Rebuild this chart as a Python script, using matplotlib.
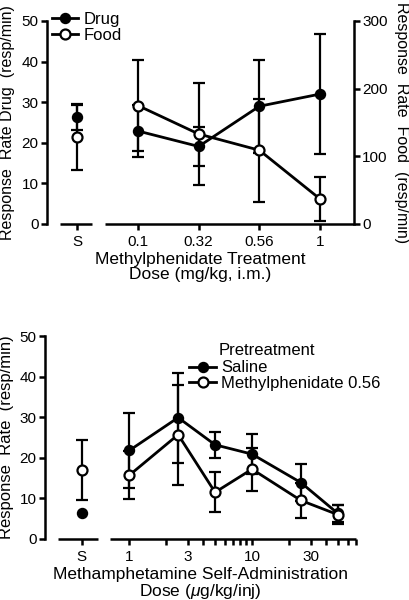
import matplotlib
matplotlib.use('Agg')
import matplotlib.pyplot as plt
from matplotlib.ticker import FixedLocator, NullFormatter

# ---- top panel data (methylphenidate treatment) ----
mph_doses = ['0.1', '0.32', '0.56', '1']
drug_s = 26.3
drug_s_err = 3.2
drug_rate = [22.9, 19.1, 29.0, 32.0]
drug_err = [6.3, 4.7, 11.4, 14.8]
food_s = 128
food_s_err = 48
food_rate = [175, 133, 109, 37]
food_err = [67, 76, 76, 32]

# ---- bottom panel data (methamphetamine self-administration) ----
meth_doses = [1, 2.5, 5, 10, 25, 50]
saline_s = 6.3
saline_rate = [21.8, 29.9, 23.2, 20.9, 13.9, 6.3]
saline_err = [9.2, 11.1, 3.2, 5.0, 4.5, 2.1]
mph_s = 16.9
mph_s_err = 7.4
mph_rate = [15.7, 25.7, 11.5, 17.2, 9.5, 6.0]
mph_err = [5.9, 12.3, 4.9, 5.3, 4.4, 2.3]
bottom_ticks = [1, 3, 10, 30]
bottom_minor = [2, 4, 5, 6, 7, 8, 9, 20, 40, 50, 60, 70]

plt.rcParams['font.family'] = ['Liberation Sans', 'DejaVu Sans']
plt.rcParams['mathtext.fontset'] = 'custom'
plt.rcParams['mathtext.it'] = 'Liberation Sans:italic'
plt.rcParams['mathtext.rm'] = 'Liberation Sans'

LW = 2.0
SPINE = 1.8
MS = 7.2
ERR = dict(fmt='none', ecolor='black', elinewidth=1.6, capsize=4.3,
           capthick=1.6, zorder=2)
FILLED = dict(color='black', lw=LW, marker='o', ms=MS, mfc='black',
              mec='black', zorder=3, clip_on=False)
OPEN = dict(color='black', lw=LW, marker='o', ms=MS, mfc='white',
            mec='black', mew=1.6, zorder=4, clip_on=False)


def style_axis(ax):
    for side in ['left', 'right', 'bottom', 'top']:
        ax.spines[side].set_linewidth(SPINE)
    ax.tick_params(width=SPINE, length=4, labelsize=11, pad=2)
    ax.tick_params(which='minor', width=SPINE, length=4)


def top_panel(fig):
    ax = fig.add_axes([0.1146, 0.6267, 0.7488, 0.3383])
    ax2 = ax.twinx()
    for a in (ax, ax2):
        style_axis(a)
        a.spines['top'].set_visible(False)
        a.spines['bottom'].set_visible(False)
    ax.spines['right'].set_visible(False)
    ax2.spines['left'].set_visible(False)

    pos = list(range(len(mph_doses)))
    s_pos = -1.0
    ax.set_xlim(-1.5, 3.56)
    ax.set_ylim(0, 50)
    ax2.set_ylim(0, 300)

    # broken x axis: S segment and dose segment
    ax.hlines(0, -1.286, -0.758, color='black', lw=SPINE, clip_on=False)
    ax.hlines(0, -0.544, 3.56, color='black', lw=SPINE, clip_on=False)

    ax.errorbar([s_pos] + pos, [drug_s] + drug_rate,
                yerr=[drug_s_err] + drug_err, **ERR)
    ax.plot([s_pos], [drug_s], **FILLED)
    ax.plot(pos, drug_rate, label='Drug', **FILLED)

    ax2.errorbar([s_pos] + pos, [food_s] + food_rate,
                 yerr=[food_s_err] + food_err, **ERR)
    ax2.plot([s_pos], [food_s], **OPEN)
    ax2.plot(pos, food_rate, label='Food', **OPEN)

    ax.set_xticks([s_pos] + pos)
    ax.set_xticklabels(['S'] + mph_doses)
    ax.set_yticks(range(0, 51, 10))
    ax2.set_yticks(range(0, 301, 100))
    ax.tick_params(axis='x', length=4, pad=4)

    ax.set_ylabel('Response  Rate Drug  (resp/min)', fontsize=11.5,
                  labelpad=5)
    ax2.set_ylabel('Response  Rate  Food  (resp/min)', fontsize=11.5,
                   rotation=270, labelpad=15)
    ax.set_xlabel('Methylphenidate Treatment\nDose (mg/kg, i.m.)',
                  fontsize=12.5, linespacing=1.0, labelpad=2)

    h1, l1 = ax.get_legend_handles_labels()
    h2, l2 = ax2.get_legend_handles_labels()
    ax2.legend(h1 + h2, l1 + l2, loc='upper left',
               bbox_to_anchor=(0.015, 1.045), frameon=False, fontsize=12,
               handlelength=1.6, handletextpad=0.3, labelspacing=0.05,
               borderpad=0, borderaxespad=0)


def bottom_panel(fig):
    ax = fig.add_axes([0.1098, 0.1017, 0.7578, 0.3383])
    style_axis(ax)
    ax.spines['top'].set_visible(False)
    ax.spines['right'].set_visible(False)
    ax.spines['bottom'].set_visible(False)

    s_pos = 0.41
    ax.set_xscale('log')
    ax.set_xlim(0.2056, 70)
    ax.set_ylim(0, 50)

    ax.hlines(0, 0.262, 0.556, color='black', lw=SPINE, clip_on=False)
    ax.hlines(0, 0.70, 70, color='black', lw=SPINE, clip_on=False)

    ax.errorbar(meth_doses, saline_rate, yerr=saline_err, **ERR)
    ax.errorbar([s_pos] + meth_doses, [mph_s] + mph_rate,
                yerr=[mph_s_err] + mph_err, **ERR)
    ax.plot([s_pos], [saline_s], **FILLED)
    ax.plot(meth_doses, saline_rate, label='Saline', **FILLED)
    ax.plot([s_pos], [mph_s], **OPEN)
    ax.plot(meth_doses, mph_rate, label='Methylphenidate 0.56', **OPEN)

    ax.xaxis.set_major_locator(FixedLocator([s_pos] + bottom_ticks))
    ax.set_xticklabels(['S'] + [str(t) for t in bottom_ticks])
    ax.xaxis.set_minor_locator(FixedLocator(bottom_minor))
    ax.xaxis.set_minor_formatter(NullFormatter())
    ax.set_yticks(range(0, 51, 10))
    ax.tick_params(axis='x', which='both', length=4, pad=4)

    ax.set_ylabel('Response  Rate  (resp/min)', fontsize=12, labelpad=4)
    ax.set_xlabel('Methamphetamine Self-Administration\n'
                  r'Dose ($\mu$g/kg/inj)',
                  fontsize=12.5, linespacing=1.0, labelpad=2)

    ax.text(0.56, 0.93, 'Pretreatment', transform=ax.transAxes,
            fontsize=12, va='center', ha='left')
    ax.legend(loc='upper left', bbox_to_anchor=(0.465, 0.88),
              frameon=False, fontsize=12, handlelength=1.6,
              handletextpad=0.3, labelspacing=0.05, borderpad=0,
              borderaxespad=0)


def main():
    fig = plt.figure(figsize=(4.1, 6.0), dpi=100)
    top_panel(fig)
    bottom_panel(fig)
    fig.savefig('out.png', dpi=100)


if __name__ == '__main__':
    main()
